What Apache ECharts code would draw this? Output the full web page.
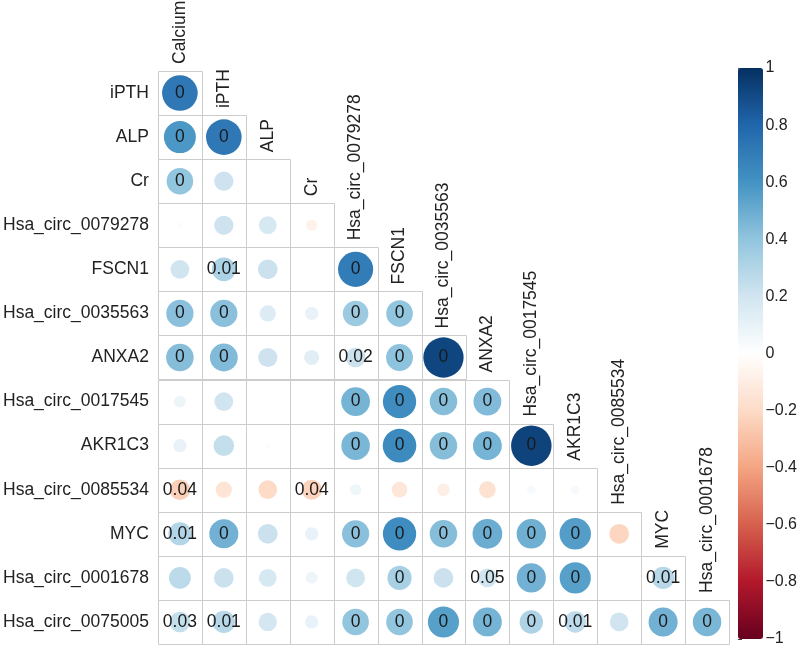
<!DOCTYPE html>
<html><head><meta charset="utf-8">
<script src="https://cdn.jsdelivr.net/npm/echarts@6/dist/echarts.min.js"></script>
<style>html,body{margin:0;padding:0;background:#fff}#c{width:800px;height:652px}</style>
</head><body><div id="c"></div>
<script>
const cols = ['Calcium','iPTH','ALP','Cr','Hsa_circ_0079278','FSCN1','Hsa_circ_0035563','ANXA2','Hsa_circ_0017545','AKR1C3','Hsa_circ_0085534','MYC','Hsa_circ_0001678'];
const rows = ['iPTH','ALP','Cr','Hsa_circ_0079278','FSCN1','Hsa_circ_0035563','ANXA2','Hsa_circ_0017545','AKR1C3','Hsa_circ_0085534','MYC','Hsa_circ_0001678','Hsa_circ_0075005'];
const corr = [
  [0.72],
  [0.58, 0.72],
  [0.40, 0.21, 0],
  [-0.02, 0.21, 0.18, -0.07],
  [0.20, 0.32, 0.22, 0, 0.70],
  [0.42, 0.42, 0.15, 0.10, 0.37, 0.40],
  [0.43, 0.44, 0.21, 0.13, 0.22, 0.41, 0.92],
  [0.08, 0.20, 0, 0, 0.47, 0.63, 0.43, 0.44],
  [0.10, 0.24, 0.02, 0, 0.46, 0.64, 0.43, 0.47, 0.93],
  [-0.24, -0.15, -0.20, -0.23, 0.07, -0.14, -0.09, -0.16, 0.04, 0.04],
  [0.30, 0.48, 0.22, 0.10, 0.42, 0.63, 0.43, 0.50, 0.49, 0.56, -0.22],
  [0.27, 0.22, 0.18, 0.08, 0.20, 0.33, 0.22, 0.20, 0.48, 0.55, 0, 0.28],
  [0.24, 0.28, 0.19, 0.10, 0.40, 0.40, 0.55, 0.47, 0.31, 0.26, 0.20, 0.48, 0.46]
];
const pvals = [
  ['0'],
  ['0','0'],
  ['0',null,null],
  [null,null,null,null],
  [null,'0.01',null,null,'0'],
  ['0','0',null,null,'0','0'],
  ['0','0',null,null,'0.02','0','0'],
  [null,null,null,null,'0','0','0','0'],
  [null,null,null,null,'0','0','0','0','0'],
  ['0.04',null,null,'0.04',null,null,null,null,null,null],
  ['0.01','0',null,null,'0','0','0','0','0','0',null],
  [null,null,null,null,null,'0',null,'0.05','0','0',null,'0.01'],
  ['0.03','0.01',null,null,'0','0','0','0','0','0.01',null,'0','0']
];
const cbTicks = [-1,-0.8,-0.6,-0.4,-0.2,0,0.2,0.4,0.6,0.8,1];
const rdbu = ['#67001f','#b2182b','#d6604d','#f4a582','#fddbc7','#ffffff','#d1e5f0','#92c5de','#4393c3','#2166ac','#053061'];

const FONT = "'Liberation Sans', Arial, sans-serif";
const cellData = [], pointData = [];
corr.forEach((r, i) => r.forEach((v, j) => {
  cellData.push([j, i]);
  pointData.push([j, i, v, pvals[i][j]]);
}));
const colLabelData = cols.map((c, j) => [j, j]);

const chart = echarts.init(document.getElementById('c'), null, {renderer: 'canvas'});
chart.setOption({
  animation: false,
  backgroundColor: '#fff',
  grid: [
    {left: 156, top: 71, width: 573, height: 573},
    {left: 738, top: 68, width: 25, height: 571}
  ],
  xAxis: [
    {type: 'category', data: cols, gridIndex: 0, show: false},
    {type: 'value', gridIndex: 1, show: false, min: 0, max: 1}
  ],
  yAxis: [
    {type: 'category', data: rows, gridIndex: 0, inverse: true,
     axisLine: {show: false}, axisTick: {show: false}, splitLine: {show: false},
     axisLabel: {fontSize: 17.5, fontFamily: FONT, color: '#222', margin: 9}},
    {type: 'value', gridIndex: 1, position: 'right', min: cbTicks[0], max: cbTicks[cbTicks.length-1], interval: 0.2,
     axisLine: {show: false}, splitLine: {show: false},
     axisTick: {show: true, length: 4, lineStyle: {color: '#444'}},
     axisLabel: {fontSize: 16, fontFamily: FONT, color: '#222', margin: 11,
       formatter: v => String(Math.round(v * 10) / 10).replace('-', '\u2212')}}
  ],
  visualMap: {
    type: 'continuous', min: -1, max: 1, dimension: 2, seriesIndex: 1,
    inRange: {color: rdbu}, calculable: false, text: null, padding: 0,
    itemWidth: 25, itemHeight: 571, left: 738, top: 68, orient: 'vertical'
  },
  series: [
    {
      type: 'custom', coordinateSystem: 'cartesian2d', xAxisIndex: 0, yAxisIndex: 0, z: 1,
      data: cellData, silent: true,
      renderItem: (params, api) => {
        const p = api.coord([api.value(0), api.value(1)]);
        const s = api.size([1, 1]);
        return {type: 'rect', shape: {x: Math.round(p[0] - s[0]/2) + 0.5, y: Math.round(p[1] - s[1]/2) + 0.5, width: Math.round(s[0]), height: Math.round(s[1])},
          style: {fill: '#fff', stroke: '#cccccc', lineWidth: 1}};
      }
    },
    {
      type: 'scatter', xAxisIndex: 0, yAxisIndex: 0, z: 3,
      data: pointData,
      symbol: 'circle',
      symbolSize: v => 42 * Math.sqrt(Math.abs(v[2])),
      itemStyle: {opacity: 1},
      label: {show: true, position: 'inside', fontSize: 17.5, fontFamily: FONT, color: '#1a1a1a',
        formatter: p => (p.value[3] == null ? '' : p.value[3])},
      emphasis: {disabled: true}
    },
    {
      type: 'custom', coordinateSystem: 'cartesian2d', xAxisIndex: 0, yAxisIndex: 0, z: 4,
      data: colLabelData, silent: true, clip: false,
      renderItem: (params, api) => {
        const j = api.value(0);
        const p = api.coord([j, api.value(1)]);
        const s = api.size([1, 1]);
        return {type: 'text', x: p[0], y: p[1] - s[1]/2 - 7, rotation: Math.PI / 2,
          style: {text: cols[j], fill: '#222', fontSize: 17.5, fontFamily: FONT, align: 'left', verticalAlign: 'middle'}};
      }
    },
    {type: 'scatter', xAxisIndex: 1, yAxisIndex: 1, data: [], silent: true}
  ]
});
</script></body></html>
